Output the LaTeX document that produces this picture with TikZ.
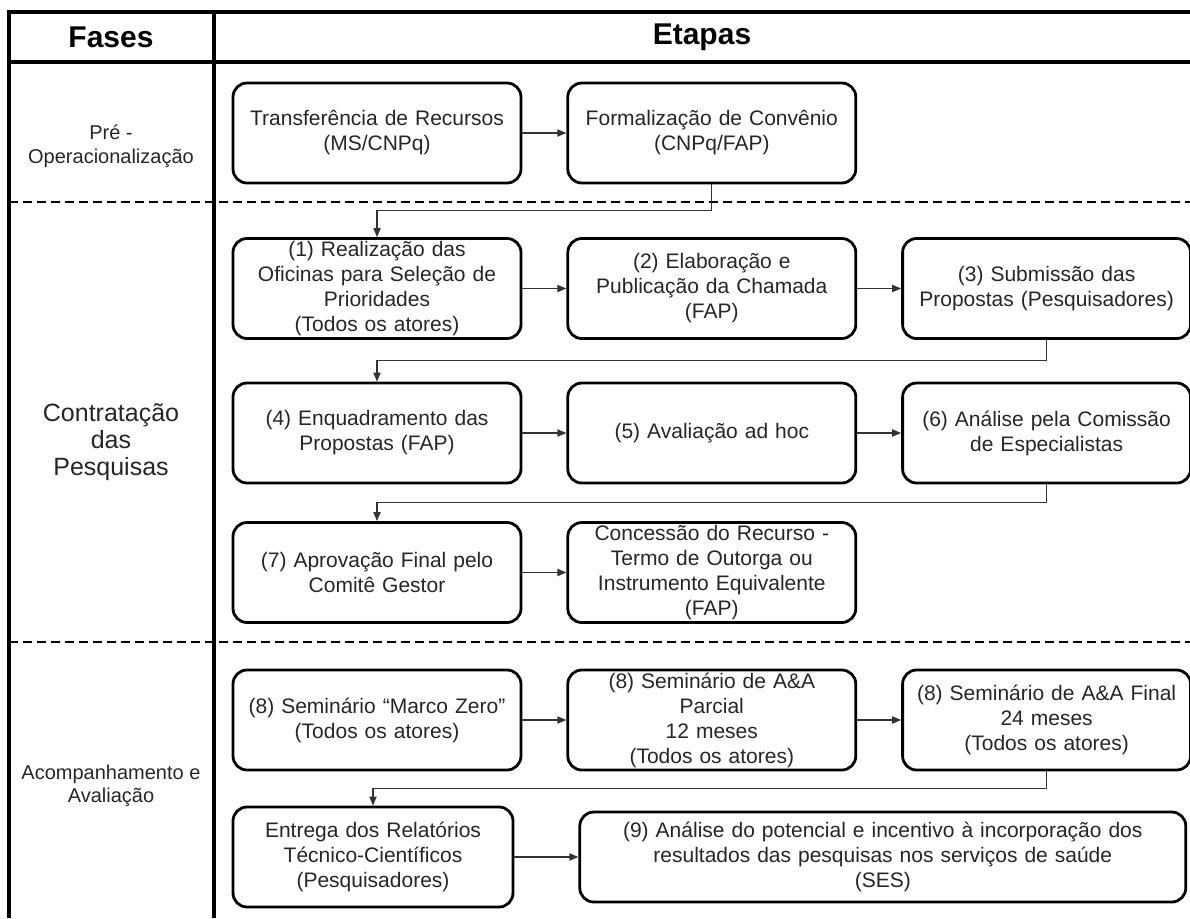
\documentclass[tikz,border=0pt]{standalone}
\usepackage{fontspec}
\setmainfont{Liberation Sans}
\usetikzlibrary{arrows.meta,positioning,calc}
\definecolor{inkgray}{HTML}{262626}
\definecolor{wiregray}{HTML}{333333}
\tikzset{
  etapa/.style={
    draw=black,
    line width=1.4pt,
    rounded corners=7pt,
    fill=white,
    minimum height=50pt,
    text width=140pt,
    inner xsep=2pt,
    inner ysep=1pt,
    align=center,
    text=inkgray,
    font=\fontsize{10.5}{12.5}\selectfont
  },
  fasetxt/.style={align=center,text=inkgray},
  cabecalho/.style={font=\fontsize{15}{18}\selectfont\bfseries},
  frameline/.style={line width=1.6pt},
  faseline/.style={line width=0.8pt,dash pattern=on 4.5pt off 2.5pt},
  flowarrow/.style={-{Triangle[length=4.5pt,width=3.6pt]},line width=0.6pt,draw=wiregray}
}

\begin{document}
\begin{tikzpicture}[x=0.5pt,y=-0.5pt,node distance=22pt]
\useasboundingbox (0,0) rectangle (1190,918);
% grade das fases
\draw[frameline] (1190,12) -- (9,12) -- (9,918);
\draw[frameline] (9,62) -- (1190,62);
\draw[frameline] (214,12) -- (214,918);
\draw[faseline] (9,202) -- (1190,202);
\draw[faseline] (9,642) -- (1190,642);
\node[cabecalho] (fases) at (111,37) {Fases};
\node[cabecalho] (etapas) at (702,37) {Etapas};
\node[fasetxt,font=\fontsize{10}{12}\selectfont] (preop) at (111,146) {Pré -\\Operacionalização};
\node[fasetxt,font=\fontsize{12.5}{13.5}\selectfont] (contrat) at (111,442) {Contratação\\das\\Pesquisas};
\node[fasetxt,font=\fontsize{10}{11.5}\selectfont] (acomp) at (111,786) {Acompanhamento e\\Avaliação};
% etapas
\node[etapa] (transf) at (377,133) {Transferência de Recursos\\(MS/CNPq)};
\node[etapa,right=of transf] (formal) {Formalização de Convênio\\(CNPq/FAP)};
\node[etapa] (oficinas) at (377,288.5) {(1) Realização das\\Oficinas para Seleção de\\Prioridades\\(Todos os atores)};
\node[etapa,right=of oficinas] (chamada) {(2) Elaboração e\\Publicação da Chamada\\(FAP)};
\node[etapa,right=of chamada] (submissao) {(3) Submissão das\\Propostas (Pesquisadores)};
\node[etapa] (enquad) at (377,433) {(4) Enquadramento das\\Propostas (FAP)};
\node[etapa,right=of enquad] (adhoc) {(5) Avaliação ad hoc};
\node[etapa,right=of adhoc] (comissao) {(6) Análise pela Comissão\\de Especialistas};
\node[etapa] (aprov) at (377,572.5) {(7) Aprovação Final pelo\\Comitê Gestor};
\node[etapa,right=of aprov] (concessao) {Concessão do Recurso -\\Termo de Outorga ou\\Instrumento Equivalente\\(FAP)};
\node[etapa] (marcozero) at (377,720) {(8) Seminário “Marco Zero”\\(Todos os atores)};
\node[etapa,right=of marcozero] (parcial) {(8) Seminário de A\&A\\Parcial\\12 meses\\(Todos os atores)};
\node[etapa,right=of parcial] (final) {(8) Seminário de A\&A Final\\24 meses\\(Todos os atores)};
\node[etapa,text width=136pt] (relatorios) at (373,857) {Entrega dos Relatórios\\Técnico-Científicos\\(Pesquisadores)};
\node[etapa,text width=299pt,minimum height=45pt,right=32pt of relatorios] (incorp) {(9) Análise do potencial e incentivo à incorporação dos\\resultados das pesquisas nos serviços de saúde\\(SES)};
% ligacoes
\draw[flowarrow] (transf) -- (formal);
\draw[flowarrow] (formal.south) |- ($(formal.south)!0.5!(oficinas.north)$) -| (oficinas.north);
\draw[flowarrow] (oficinas) -- (chamada);
\draw[flowarrow] (chamada) -- (submissao);
\draw[flowarrow] (submissao.south) |- ($(submissao.south)!0.5!(enquad.north)$) -| (enquad.north);
\draw[flowarrow] (enquad) -- (adhoc);
\draw[flowarrow] (adhoc) -- (comissao);
\draw[flowarrow] (comissao.south) |- ($(comissao.south)!0.5!(aprov.north)$) -| (aprov.north);
\draw[flowarrow] (aprov) -- (concessao);
\draw[flowarrow] (marcozero) -- (parcial);
\draw[flowarrow] (parcial) -- (final);
\draw[flowarrow] (final.south) |- ($(final.south)!0.5!(relatorios.north)$) -| (relatorios.north);
\draw[flowarrow] (relatorios) -- (incorp);
\end{tikzpicture}
\end{document}
